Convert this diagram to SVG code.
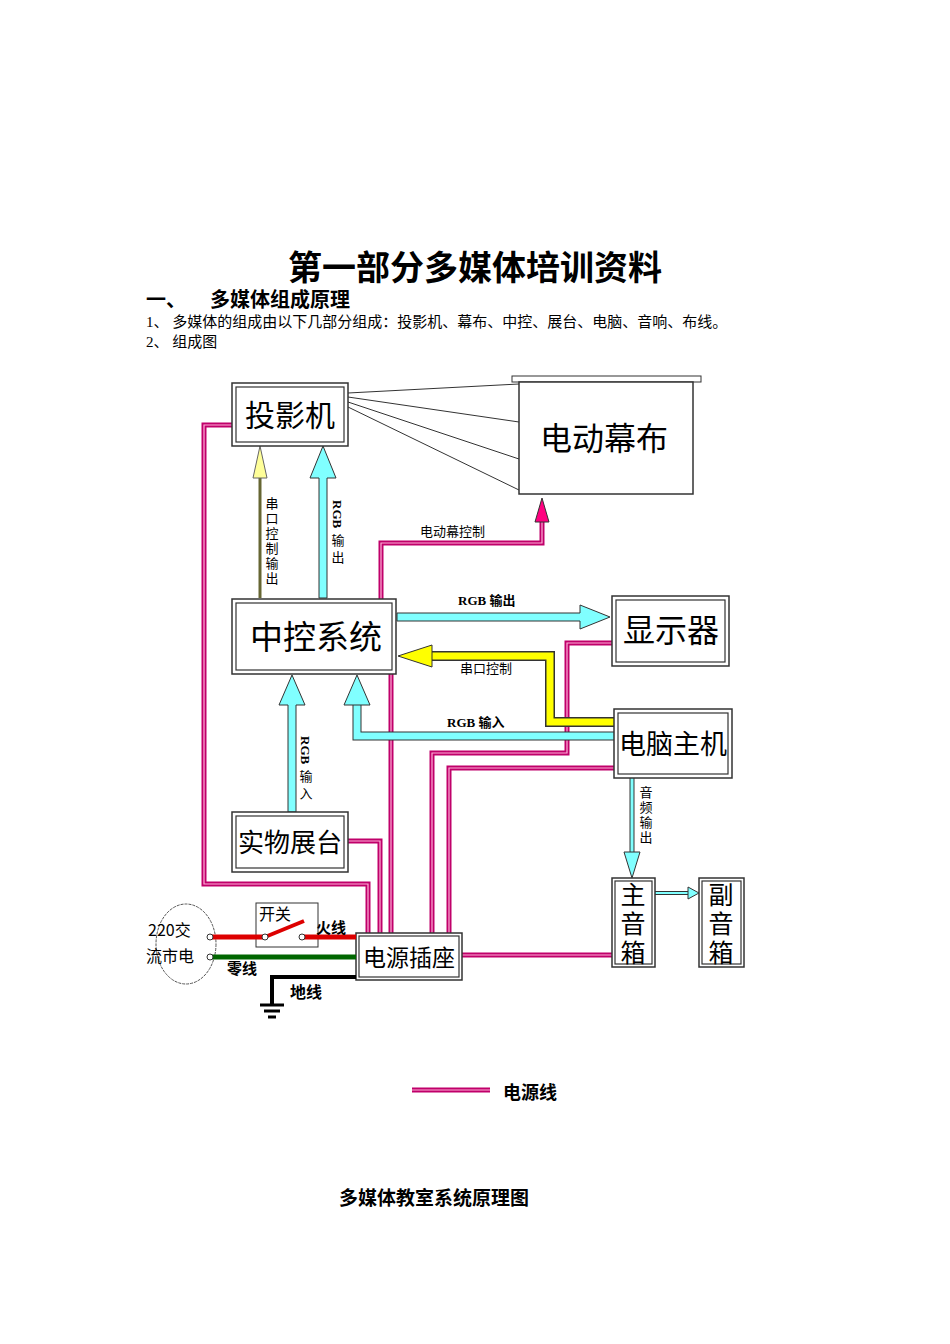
<svg xmlns="http://www.w3.org/2000/svg" width="950" height="1344" viewBox="0 0 950 1344">
<style>
.t{font-family:"Liberation Serif","Noto Sans CJK SC",serif;fill:#000}
.n{font-family:"Noto Sans CJK SC",sans-serif;fill:#000}
.v{writing-mode:vertical-rl;text-orientation:upright;letter-spacing:4px}
.vs{writing-mode:vertical-rl;text-orientation:upright;letter-spacing:2px}
.ob{fill:#fff;stroke:#333;stroke-width:1.5}
.ib{fill:none;stroke:#333;stroke-width:1.2}
.pw{fill:none;stroke:#c0006a;stroke-width:5}
.pwi{fill:none;stroke:#ffb0d8;stroke-width:1.2}
.cy{fill:#80ffff;stroke:#333;stroke-width:1}
.cyo{fill:none;stroke:#333;stroke-width:9}
.cyi{fill:none;stroke:#80ffff;stroke-width:7}
.lb{font-family:"Noto Sans CJK SC",sans-serif;font-size:13px;fill:#000}
.lbb{font-family:"Liberation Serif","Noto Sans CJK SC",serif;font-size:13px;font-weight:bold;fill:#000}
</style>
<rect width="950" height="1344" fill="#fff"/>
<text class="t" x="475" y="280" text-anchor="middle" font-size="34" font-weight="bold">第一部分多媒体培训资料</text>
<text class="t" x="146" y="307" font-size="20" font-weight="bold">一、</text>
<text class="t" x="210" y="307" font-size="20" font-weight="bold">多媒体组成原理</text>
<text class="t" x="146" y="327" font-size="15">1、 多媒体的组成由以下几部分组成：投影机、幕布、中控、展台、电脑、音响、布线。</text>
<text class="t" x="146" y="347" font-size="15">2、 组成图</text>

<g id="connectors">
 <g fill="none" stroke="#333" stroke-width="1">
  <line x1="348" y1="393" x2="519" y2="384"/>
  <line x1="348" y1="397" x2="519" y2="422"/>
  <line x1="348" y1="402" x2="519" y2="459"/>
  <line x1="348" y1="407" x2="519" y2="490"/>
 </g>
 <path class="pw" d="M232 425H204V884H368V933"/><path class="pwi" d="M232 425H204V884H368V933"/>
 <path class="pw" d="M348 841H380V933"/><path class="pwi" d="M348 841H380V933"/>
 <path class="pw" d="M391 674V933"/><path class="pwi" d="M391 674V933"/>
 <path class="pw" d="M612 643H567V753H432V933"/><path class="pwi" d="M612 643H567V753H432V933"/>
 <path class="pw" d="M614 768H449V933"/><path class="pwi" d="M614 768H449V933"/>
 <path class="pw" d="M462 955H612"/><path class="pwi" d="M462 955H612"/>
 <path class="pw" d="M381 599V543H542V520"/><path class="pwi" d="M381 599V543H542V520"/>
 <polygon points="535,522 542,498 549,522" fill="#ff0080" stroke="#333" stroke-width="1"/>
 <line x1="260" y1="598" x2="260" y2="476" stroke="#666633" stroke-width="3"/>
 <polygon points="253,478 260,446 267,478" fill="#ffff99" stroke="#666" stroke-width="1"/>
 <polygon class="cy" points="319,598 319,478 310,478 323,446 336,478 327,478 327,598"/>
 <polygon class="cy" points="397,613 580,613 580,605 610,617 580,629 580,621 397,621"/>
 <path d="M614 722H550V656H430" fill="none" stroke="#333" stroke-width="10"/>
 <path d="M614 722H550V656H430" fill="none" stroke="#ffff00" stroke-width="7"/>
 <polygon points="432,645 398,656 432,667" fill="#ffff00" stroke="#333" stroke-width="1"/>
 <path class="cyo" d="M614 736H357V703"/><path class="cyi" d="M614 736H357V703"/>
 <polygon class="cy" points="344,705 357,675 370,705"/>
 <polygon class="cy" points="288,812 288,705 279,705 292,675 305,705 296,705 296,812"/>
 <path d="M632 778V853" stroke="#333" stroke-width="5"/><path d="M632 778V853" stroke="#80ffff" stroke-width="3"/>
 <polygon class="cy" points="624,852 632,878 640,852"/>
 <path d="M655 893H689" stroke="#333" stroke-width="4"/><path d="M655 893H689" stroke="#80ffff" stroke-width="2"/>
 <polygon class="cy" points="688,887 699,893 688,899"/>
 <text class="lb" x="420" y="536">电动幕控制</text>
 <text class="lbb" x="458" y="605">RGB 输出</text>
 <text class="lb" x="460" y="673">串口控制</text>
 <text class="lbb" x="447" y="727">RGB 输入</text>
 <text class="lb vs" x="272" y="497">串口控制输出</text>
 <text class="lbb" transform="translate(333,500) rotate(90)">RGB</text>
 <text class="lb v" x="338" y="534">输出</text>
 <text class="lbb" transform="translate(301,736) rotate(90)">RGB</text>
 <text class="lb v" x="306" y="770">输入</text>
 <text class="lb vs" x="646" y="786">音频输出</text>
</g>

<g id="projector"><rect class="ob" x="232" y="383" width="116" height="63"/><rect class="ib" x="236" y="387" width="108" height="55"/><text class="n" x="290" y="426" font-size="30" text-anchor="middle">投影机</text></g>
<g id="screen"><rect x="512" y="376" width="189" height="6" fill="#fff" stroke="#333"/><rect class="ob" x="519" y="382" width="174" height="112"/><text class="n" x="604" y="450" font-size="32" text-anchor="middle">电动幕布</text></g>
<g id="central"><rect class="ob" x="232" y="599" width="164" height="75"/><rect class="ib" x="236" y="603" width="156" height="67"/><text class="n" x="316" y="649" font-size="33" text-anchor="middle">中控系统</text></g>
<g id="monitor"><rect class="ob" x="612" y="596" width="117" height="70"/><rect class="ib" x="616" y="600" width="109" height="62"/><text class="n" x="671" y="642" font-size="32" text-anchor="middle">显示器</text></g>
<g id="pc"><rect class="ob" x="614" y="709" width="118" height="69"/><rect class="ib" x="618" y="713" width="110" height="61"/><text class="n" x="673" y="754" font-size="27" text-anchor="middle">电脑主机</text></g>
<g id="visualizer"><rect class="ob" x="232" y="812" width="116" height="60"/><rect class="ib" x="236" y="816" width="108" height="52"/><text class="n" x="290" y="852" font-size="26" text-anchor="middle">实物展台</text></g>
<g id="socket"><rect class="ob" x="356" y="933" width="106" height="47"/><rect class="ib" x="359" y="936" width="100" height="41"/><text class="n" x="409" y="966" font-size="23" text-anchor="middle">电源插座</text></g>
<g id="mainspk"><rect class="ob" x="612" y="878" width="43" height="89"/><rect class="ib" x="615" y="881" width="37" height="83"/><text class="n v" x="633" y="882" font-size="25">主音箱</text></g>
<g id="subspk"><rect class="ob" x="699" y="878" width="45" height="89"/><rect class="ib" x="702" y="881" width="39" height="83"/><text class="n v" x="721" y="882" font-size="25">副音箱</text></g>

<g id="power">
 <ellipse cx="186" cy="944" rx="30" ry="40" fill="none" stroke="#555" stroke-dasharray="3 1"/>
 <text class="n" x="148" y="936" font-size="16">220交</text>
 <text class="n" x="146" y="962" font-size="16">流市电</text>
 <rect x="256" y="903" width="62" height="44" fill="#fff" stroke="#333"/>
 <text class="n" x="259" y="920" font-size="16">开关</text>
 <line x1="212" y1="937" x2="263" y2="937" stroke="#dd0000" stroke-width="5"/>
 <line x1="265" y1="937" x2="304" y2="921" stroke="#dd0000" stroke-width="4"/>
 <line x1="303" y1="937" x2="356" y2="937" stroke="#dd0000" stroke-width="5"/>
 <circle cx="210" cy="937" r="3" fill="#fff" stroke="#333"/>
 <circle cx="265" cy="937" r="3" fill="#fff" stroke="#333"/>
 <circle cx="302" cy="937" r="3" fill="#fff" stroke="#333"/>
 <line x1="212" y1="957" x2="356" y2="957" stroke="#006600" stroke-width="5"/>
 <circle cx="210" cy="957" r="3" fill="#fff" stroke="#333"/>
 <text class="n" x="316" y="933" font-size="15" font-weight="bold">火线</text>
 <text class="n" x="227" y="974" font-size="15" font-weight="bold">零线</text>
 <path d="M356 977H272V1005" fill="none" stroke="#000" stroke-width="4"/>
 <line x1="260" y1="1005" x2="284" y2="1005" stroke="#000" stroke-width="3"/>
 <line x1="264" y1="1011" x2="280" y2="1011" stroke="#000" stroke-width="3"/>
 <line x1="268" y1="1017" x2="276" y2="1017" stroke="#000" stroke-width="3"/>
 <text class="n" x="290" y="998" font-size="16" font-weight="bold">地线</text>
</g>

<g id="legend">
 <path class="pw" d="M412 1090H490"/><path class="pwi" d="M412 1090H490"/>
 <text class="n" x="503" y="1099" font-size="18" font-weight="bold">电源线</text>
</g>
<text class="t" x="434" y="1205" font-size="19" font-weight="bold" text-anchor="middle">多媒体教室系统原理图</text>
</svg>
